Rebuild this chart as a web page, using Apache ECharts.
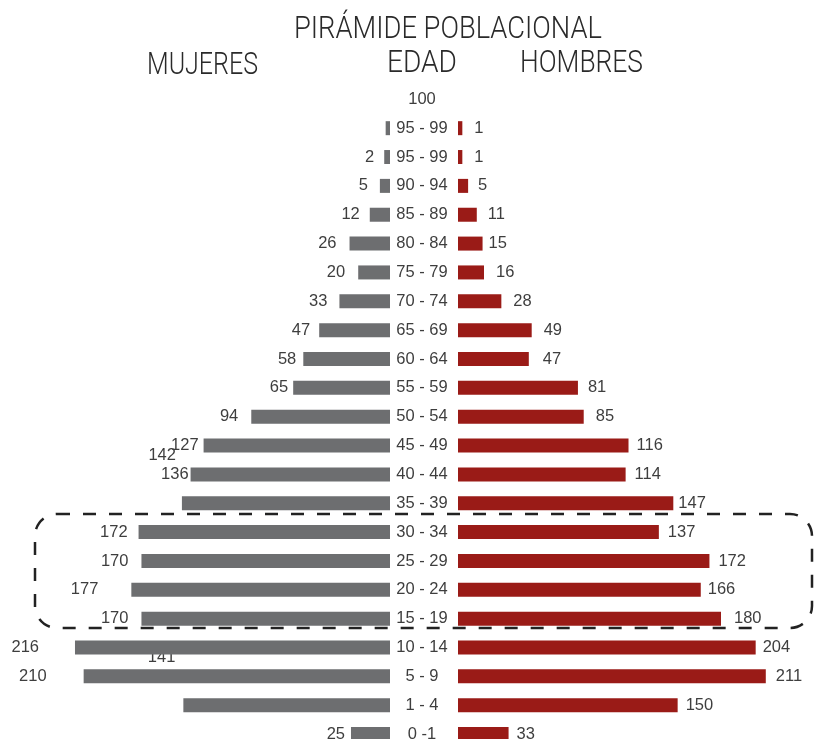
<!DOCTYPE html>
<html>
<head>
<meta charset="utf-8">
<script src="https://cdn.jsdelivr.net/npm/echarts@6/dist/echarts.min.js"></script>
<style>
html,body{margin:0;padding:0;background:#fff;}
#main{width:814px;height:739px;}
</style>
</head>
<body>
<div id="main"></div>
<script>
// ---- data (top to bottom) ----
var categories = ['100','95 - 99','95 - 99','90 - 94','85 - 89','80 - 84','75 - 79','70 - 74','65 - 69','60 - 64','55 - 59','50 - 54','45 - 49','40 - 44','35 - 39','30 - 34','25 - 29','20 - 24','15 - 19','10 - 14','5 - 9','1 - 4','0 -1'];
var mujeres = [null,1,2,5,12,26,20,33,47,58,65,94,127,136,142,172,170,177,170,216,210,141,25];
var hombres = [null,1,1,5,11,15,16,28,49,47,81,85,116,114,147,137,172,166,180,204,211,150,33];

// ---- label placement (styling, separate from values) ----
var leftGap  = [0,0,10,12,10,13,13,12,9,7,5,13,5,2,6,11,13,33,13,36,37,8,6];
var rightGap = [0,12,12,10,11,6,12,12,12,14,10,12,8,9,5,9,9,7,13,7,10,8,8];
var leftHidden = {1:true};
var leftShift = {14:-48, 21:-48};
var underIndex = 21; // its label sits beneath the bar above

var GRAY = '#6d6e70', RED = '#9a1b17', TXT = '#3e3e3e';
var labelFont = {fontFamily:'Liberation Sans, Arial, sans-serif', fontSize:16.5, color:TXT};

function leftItem(i, include){
  var v = mujeres[i];
  if (v == null || !include) return null;
  return {
    value: v,
    label: Object.assign({
      show: !leftHidden[i],
      position: 'left',
      distance: leftGap[i],
      offset: [0, leftShift[i] || 0],
      formatter: String(v)
    }, labelFont)
  };
}
var leftMain = mujeres.map(function(v,i){ return leftItem(i, i !== underIndex); });
var leftUnder = mujeres.map(function(v,i){ return leftItem(i, i === underIndex); });
var rightData = hombres.map(function(v,i){
  if (v == null) return null;
  return {value:v, label:Object.assign({show:true, position:'right', distance:rightGap[i], formatter:String(v)}, labelFont)};
});

var AX_MIN = -2, AX_MAX = 240;
var gridTop = 84.9, gridH = 663.6, gridW = 349.7;

var chart = echarts.init(document.getElementById('main'), null, {renderer:'canvas'});

function measure(text, font){
  var c = document.createElement('canvas').getContext('2d');
  c.font = font; return c.measureText(text).width;
}
var headFont = '300 31px Roboto';
function head(text, cx, cy, targetW){
  var w = measure(text, headFont);
  return {type:'text', x:cx, y:cy, scaleX: targetW / w, z:10,
    style:{text:text, font:headFont, fill:'#2a2a2a', textAlign:'center', textVerticalAlign:'middle'}};
}

chart.setOption({
  animation:false,
  backgroundColor:'#fff',
  grid:[
    {left: 390 - gridW, top: gridTop, width: gridW, height: gridH, outerBoundsMode:'none', containLabel:false},
    {left: 458, top: gridTop, width: gridW, height: gridH, outerBoundsMode:'none', containLabel:false}
  ],
  xAxis:[
    {gridIndex:0, type:'value', min:AX_MIN, max:AX_MAX, startValue:AX_MIN, inverse:true, show:false},
    {gridIndex:1, type:'value', min:AX_MIN, max:AX_MAX, startValue:AX_MIN, show:false}
  ],
  yAxis:[
    {gridIndex:0, type:'category', data:categories, inverse:true, position:'right',
     axisLine:{show:false}, axisTick:{show:false}, splitLine:{show:false},
     axisLabel:{margin:32, align:'center', fontFamily:'Liberation Sans, Arial, sans-serif', fontSize:16.5, color:TXT, interval:0}},
    {gridIndex:1, type:'category', data:categories, inverse:true, show:false}
  ],
  series:[
    {name:'Mujeres', type:'bar', xAxisIndex:0, yAxisIndex:0, data:leftMain, barWidth:14, barGap:'-100%', z:3,
     itemStyle:{color:GRAY}},
    {name:'Mujeres ', type:'bar', xAxisIndex:0, yAxisIndex:0, data:leftUnder, barWidth:14, barGap:'-100%', z:1,
     itemStyle:{color:GRAY}},
    {name:'Hombres', type:'bar', xAxisIndex:1, yAxisIndex:1, data:rightData, barWidth:14, z:3,
     itemStyle:{color:RED}}
  ],
  graphic:[
    head('PIRÁMIDE POBLACIONAL', 448, 30, 308),
    head('MUJERES', 202.5, 66, 111),
    head('EDAD', 422, 64, 70),
    head('HOMBRES', 581.5, 64, 123),
    {type:'rect', z:20, shape:{x:35, y:514, width:777, height:114, r:22},
     style:{fill:'none', stroke:'#222', lineWidth:2.5, lineDash:[13,13]}}
  ]
});
</script>
</body>
</html>
